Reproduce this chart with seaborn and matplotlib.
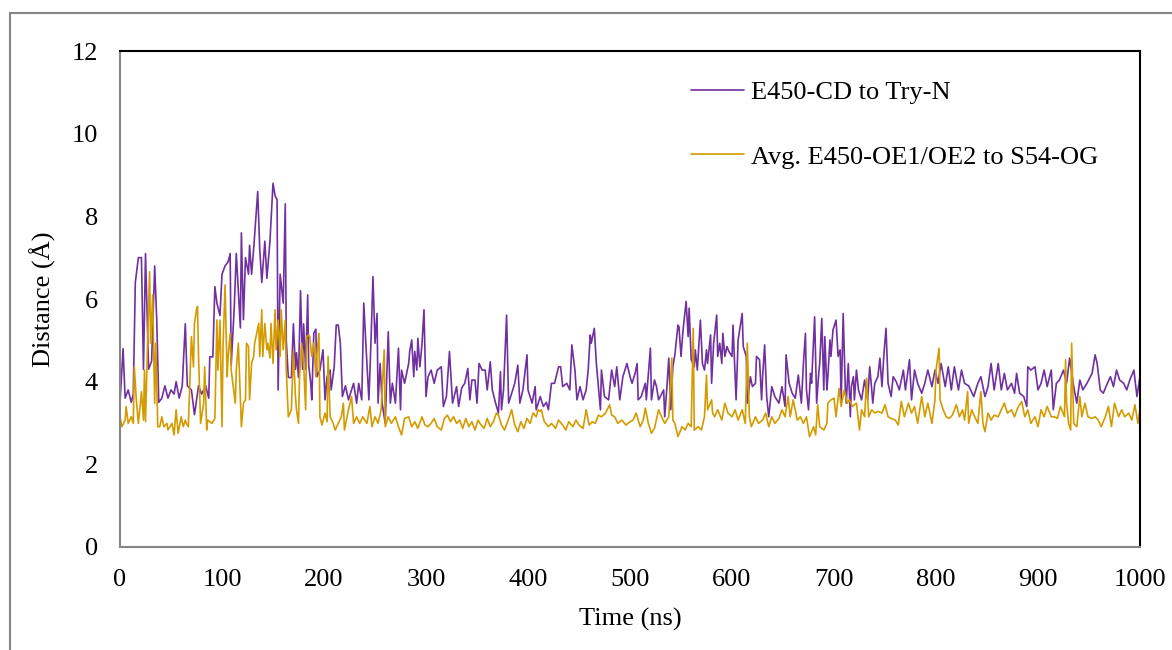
import numpy as np
import pandas as pd
import matplotlib
matplotlib.use("Agg")
import matplotlib.pyplot as plt
import seaborn as sns

# E450-CD to Try-N  (time ns, distance A)
time_cd = [0, 3, 5, 8, 11, 13, 15, 18, 21, 23, 25, 28, 31, 34, 36, 38, 41, 44, 47, 50,
           53, 55, 58, 61, 64, 66, 70, 73, 77, 80, 84, 87, 88, 91, 93, 95, 98, 100, 103, 106,
           108, 109, 112, 114, 118, 119, 121, 123, 126, 127, 129, 131, 135, 137, 139, 142, 144, 147, 150, 152,
           154, 155, 157, 160, 162, 163, 165, 168, 170, 172, 173, 175, 177, 179, 180, 182, 184, 185, 187, 188,
           190, 192, 193, 196, 199, 201, 203, 206, 207, 210, 212, 214, 216, 218, 221, 224, 227, 229, 232, 234,
           237, 239, 241, 244, 246, 248, 250, 252, 253, 255, 257, 260, 262, 263, 265, 267, 270, 273, 275, 276,
           279, 283, 284, 286, 288, 289, 291, 292, 294, 296, 298, 300, 302, 305, 308, 311, 315, 317, 320, 323,
           326, 330, 332, 335, 338, 341, 343, 345, 348, 350, 352, 355, 358, 360, 363, 365, 368, 371, 373, 374,
           376, 379, 381, 383, 387, 390, 392, 395, 399, 400, 404, 407, 408, 412, 415, 418, 420, 423, 426, 430,
           432, 434, 438, 441, 443, 446, 448, 451, 454, 457, 459, 461, 462, 465, 467, 471, 472, 475, 479, 482,
           485, 487, 490, 493, 497, 500, 502, 505, 507, 508, 511, 515, 516, 520, 521, 524, 526, 528, 531, 533,
           534, 536, 538, 540, 542, 544, 547, 548, 550, 552, 554, 555, 557, 558, 560, 563, 564, 566, 569, 571,
           573, 575, 576, 579, 580, 582, 585, 586, 588, 590, 591, 593, 595, 597, 600, 601, 604, 606, 610, 611,
           614, 615, 618, 620, 623, 624, 627, 629, 630, 632, 634, 636, 639, 642, 646, 649, 652, 653, 656, 659,
           662, 665, 668, 670, 672, 673, 675, 677, 678, 681, 683, 685, 686, 688, 690, 691, 693, 694, 696, 697,
           699, 701, 702, 704, 706, 707, 709, 711, 712, 714, 716, 717, 719, 720, 722, 724, 727, 730, 733, 735,
           737, 738, 740, 743, 745, 747, 749, 751, 753, 756, 758, 761, 764, 768, 770, 774, 776, 779, 782, 786,
           789, 792, 796, 799, 802, 805, 809, 812, 815, 818, 822, 825, 828, 832, 837, 841, 844, 848, 851, 854,
           857, 861, 864, 867, 870, 874, 877, 879, 882, 886, 889, 890, 893, 897, 900, 903, 906, 909, 913, 915,
           918, 921, 925, 928, 931, 935, 938, 941, 944, 948, 953, 956, 958, 961, 964, 968, 971, 974, 977, 980,
           984, 987, 990, 994, 997, 1000]
dist_cd = [3.5, 4.8, 3.6, 3.8, 3.5, 3.7, 6.4, 7.0, 7.0, 4.3, 7.1, 4.3, 4.5, 6.8, 5.5, 3.5, 3.6, 3.9, 3.6, 3.8,
           3.7, 4.0, 3.6, 3.9, 5.4, 3.9, 3.8, 3.2, 3.9, 3.7, 3.9, 3.6, 4.6, 4.6, 6.3, 5.9, 5.6, 6.6, 6.8, 6.9,
           7.1, 4.4, 5.8, 7.1, 5.3, 7.6, 5.5, 7.0, 6.6, 7.3, 6.6, 7.2, 8.6, 7.2, 6.4, 7.4, 6.5, 7.4, 8.8, 8.5,
           8.4, 3.8, 6.6, 5.9, 8.3, 5.0, 4.1, 4.1, 5.4, 4.3, 4.7, 4.1, 6.2, 4.3, 5.4, 4.3, 6.1, 4.4, 3.96, 3.56,
           5.17, 5.27, 4.12, 4.28, 4.77, 3.56, 4.12, 4.28, 3.8, 4.36, 5.37, 5.37, 4.93, 3.64, 3.9, 3.56, 3.8, 3.96, 3.48, 3.96,
           3.56, 5.9, 4.93, 3.56, 4.93, 6.54, 4.93, 5.65, 3.48, 4.44, 3.48, 2.99, 4.44, 5.21, 3.48, 3.96, 3.48, 4.81, 3.32, 4.28,
           3.96, 4.44, 4.73, 5.01, 4.12, 4.73, 4.28, 5.05, 4.36, 4.89, 5.74, 3.64, 4.12, 4.28, 3.96, 4.28, 4.36, 3.4, 3.64, 4.73,
           3.48, 3.88, 3.4, 3.85, 3.96, 4.32, 3.56, 4.04, 4.04, 3.48, 4.44, 4.28, 4.28, 3.8, 4.48, 3.8, 3.5, 3.24, 4.24, 3.32,
           3.8, 5.61, 3.48, 3.64, 3.96, 4.4, 3.48, 3.8, 4.65, 3.8, 3.48, 3.88, 3.32, 3.64, 3.4, 3.5, 3.32, 3.96, 3.96, 4.36,
           4.36, 3.88, 3.96, 3.8, 4.89, 4.28, 3.56, 3.88, 3.56, 3.8, 4.28, 5.13, 4.93, 5.29, 4.44, 3.32, 4.28, 3.64, 3.56, 4.28,
           3.88, 4.36, 3.56, 4.12, 4.44, 4.12, 3.96, 4.2, 4.44, 3.56, 3.64, 3.96, 3.56, 4.81, 3.56, 4.04, 3.88, 3.56, 3.7, 3.8,
           3.15, 3.8, 4.57, 3.32, 4.36, 4.65, 5.37, 5.33, 4.61, 5.25, 5.7, 5.94, 5.09, 5.78, 4.53, 4.36, 4.77, 4.28, 5.49, 4.44,
           4.28, 4.77, 4.44, 5.13, 3.96, 4.93, 5.61, 4.61, 4.93, 4.44, 5.17, 4.61, 4.85, 4.73, 4.61, 5.37, 3.56, 5.01, 5.65, 4.85,
           4.61, 3.48, 4.12, 3.88, 3.96, 4.61, 4.53, 3.56, 4.12, 4.89, 3.64, 3.15, 3.88, 3.64, 3.48, 3.88, 3.4, 4.65, 3.96, 3.72,
           3.6, 4.16, 3.48, 4.44, 5.17, 3.8, 3.32, 4.2, 3.96, 5.57, 3.48, 4.2, 4.44, 5.53, 3.8, 5.09, 3.8, 4.12, 5.01, 4.61,
           5.25, 5.41, 5.49, 4.61, 4.77, 3.48, 5.65, 3.88, 3.48, 4.44, 3.15, 3.88, 4.12, 3.56, 4.28, 3.8, 3.56, 4.04, 3.56, 4.36,
           3.8, 3.48, 3.96, 4.12, 4.57, 3.88, 4.69, 5.29, 3.96, 3.64, 4.12, 4.0, 3.8, 4.28, 3.8, 4.53, 3.56, 4.28, 3.96, 3.72,
           3.96, 4.28, 3.88, 4.28, 3.96, 4.44, 3.88, 4.36, 3.8, 4.36, 3.8, 4.28, 3.96, 3.9, 3.64, 3.96, 4.12, 3.64, 3.88, 4.44,
           3.8, 4.44, 3.8, 4.2, 3.8, 3.96, 3.72, 4.2, 3.72, 3.64, 3.4, 4.36, 4.28, 4.36, 3.8, 3.96, 4.28, 3.88, 4.28, 3.32,
           3.96, 4.04, 4.28, 3.96, 4.57, 3.88, 3.48, 4.04, 3.8, 3.96, 4.2, 4.65, 4.44, 3.8, 3.72, 3.96, 4.12, 3.88, 4.28, 4.04,
           3.96, 3.8, 4.04, 4.28, 3.64, 4.12]

# Avg. E450-OE1/OE2 to S54-OG
time_og = [0, 2, 5, 6, 8, 11, 13, 14, 16, 18, 20, 21, 23, 24, 25, 27, 29, 30, 32, 34,
           35, 37, 39, 41, 43, 46, 47, 51, 53, 55, 57, 60, 62, 64, 65, 67, 70, 72, 73, 75,
           76, 77, 79, 82, 83, 85, 86, 90, 93, 95, 96, 98, 100, 101, 103, 105, 106, 108, 109, 111,
           113, 114, 116, 119, 121, 123, 124, 126, 127, 129, 131, 132, 136, 137, 139, 140, 142, 144, 145, 147,
           148, 150, 152, 153, 155, 157, 158, 160, 162, 163, 165, 168, 170, 172, 173, 175, 176, 178, 180, 182,
           183, 185, 186, 188, 190, 192, 193, 195, 196, 198, 201, 203, 204, 206, 209, 211, 214, 217, 219, 220,
           224, 227, 229, 232, 235, 238, 242, 245, 247, 250, 253, 256, 259, 260, 263, 266, 270, 273, 276, 279,
           283, 286, 289, 292, 296, 299, 302, 305, 308, 311, 315, 318, 321, 324, 327, 330, 333, 336, 339, 342,
           345, 348, 351, 354, 357, 360, 363, 366, 369, 371, 374, 377, 380, 384, 387, 390, 393, 396, 399, 402,
           405, 408, 410, 412, 413, 416, 420, 423, 427, 430, 434, 437, 440, 444, 447, 450, 454, 457, 460, 463,
           466, 469, 472, 476, 480, 482, 485, 488, 492, 496, 500, 503, 506, 510, 513, 515, 518, 521, 524, 528,
           531, 534, 538, 541, 542, 544, 547, 551, 554, 557, 560, 562, 563, 567, 570, 573, 575, 576, 580, 581,
           583, 586, 590, 593, 596, 600, 603, 606, 610, 613, 615, 617, 619, 623, 626, 630, 633, 636, 639, 642,
           646, 649, 652, 655, 657, 660, 664, 667, 670, 673, 676, 680, 682, 684, 686, 690, 693, 694, 697, 700,
           702, 705, 707, 710, 713, 715, 718, 722, 725, 727, 730, 732, 734, 737, 740, 743, 747, 750, 753, 756,
           760, 763, 766, 769, 773, 776, 779, 782, 786, 789, 792, 796, 799, 800, 803, 804, 807, 810, 813, 816,
           820, 823, 826, 828, 831, 832, 835, 838, 841, 844, 846, 848, 851, 854, 857, 861, 864, 867, 870, 874,
           877, 880, 884, 887, 890, 893, 897, 900, 903, 906, 909, 913, 916, 919, 922, 926, 927, 928, 930, 932,
           933, 935, 938, 941, 943, 946, 949, 953, 956, 959, 962, 966, 969, 972, 975, 979, 982, 985, 989, 992,
           995, 998, 1000]
dist_og = [3.15, 2.91, 3.07, 3.40, 2.99, 3.15, 2.99, 4.36, 3.56, 2.99, 3.48, 3.76, 3.07, 4.28, 3.03, 4.93, 6.66, 4.93, 6.10, 3.48,
           4.93, 2.91, 2.91, 3.15, 2.91, 2.99, 2.83, 2.99, 2.71, 3.32, 2.75, 3.15, 2.91, 3.07, 2.99, 2.91, 5.09, 4.36, 5.41, 5.74,
           5.82, 4.61, 2.99, 3.48, 4.36, 2.83, 3.07, 2.99, 3.11, 5.49, 4.28, 5.49, 2.91, 4.85, 6.34, 4.12, 4.61, 5.17, 4.28, 3.88,
           3.48, 4.28, 4.93, 2.91, 3.48, 3.56, 4.93, 4.85, 3.56, 4.44, 4.61, 4.93, 5.41, 4.61, 5.74, 4.61, 5.41, 4.77, 4.93, 4.57,
           5.41, 4.44, 5.74, 4.77, 5.49, 4.61, 5.74, 4.77, 5.49, 4.28, 3.15, 3.32, 4.73, 3.64, 3.32, 2.99, 4.12, 4.93, 4.44, 3.32,
           5.09, 5.13, 5.09, 4.61, 4.93, 4.12, 4.65, 5.17, 3.15, 2.95, 3.24, 3.03, 4.61, 3.15, 2.99, 2.83, 2.99, 3.15, 3.48, 2.83,
           3.32, 3.64, 2.99, 3.15, 2.99, 3.15, 2.99, 3.40, 2.91, 3.15, 2.99, 3.32, 4.77, 2.91, 3.15, 2.99, 3.15, 2.91, 2.71, 3.11,
           3.15, 2.91, 3.03, 2.87, 3.15, 2.95, 2.91, 2.99, 3.11, 2.91, 2.83, 3.11, 3.19, 3.03, 3.15, 2.99, 3.07, 2.87, 3.11, 2.91,
           3.03, 2.83, 3.07, 2.95, 2.87, 3.11, 2.91, 3.03, 3.24, 3.19, 2.95, 2.83, 3.03, 3.32, 2.95, 2.79, 3.03, 2.87, 3.11, 2.99,
           3.24, 3.15, 3.32, 3.28, 3.32, 3.03, 2.91, 2.99, 2.87, 3.07, 2.95, 2.83, 3.03, 2.91, 3.07, 2.95, 2.87, 3.32, 2.95, 3.03,
           2.99, 3.19, 3.15, 3.24, 3.44, 3.19, 3.15, 2.99, 3.07, 2.95, 3.03, 3.07, 3.24, 2.91, 3.07, 3.36, 2.99, 2.75, 2.87, 3.32,
           3.15, 2.99, 3.15, 4.57, 3.07, 2.99, 2.67, 2.91, 2.83, 2.99, 2.91, 5.29, 2.83, 2.91, 2.83, 3.15, 4.16, 3.32, 3.56, 3.24,
           3.15, 3.32, 3.07, 3.48, 3.24, 3.15, 3.32, 3.07, 3.32, 2.99, 4.93, 3.15, 2.91, 3.15, 2.99, 3.07, 3.24, 2.91, 3.15, 2.99,
           3.11, 3.32, 3.15, 3.64, 3.15, 3.56, 3.07, 3.15, 2.99, 3.15, 2.67, 2.91, 2.71, 3.44, 2.91, 2.83, 2.99, 3.48, 3.56, 3.60,
           3.15, 3.84, 3.40, 3.80, 3.48, 3.56, 3.40, 3.48, 2.83, 3.32, 3.15, 4.08, 3.15, 3.32, 3.24, 3.28, 3.24, 3.44, 3.15, 3.11,
           3.07, 2.95, 3.52, 3.15, 3.48, 3.24, 3.40, 2.99, 3.64, 3.15, 3.48, 2.99, 3.56, 4.28, 4.81, 3.56, 3.32, 3.15, 3.11, 3.19,
           3.44, 3.15, 3.32, 3.07, 3.76, 2.99, 3.32, 3.15, 2.99, 3.76, 2.99, 2.79, 3.24, 3.07, 3.19, 3.15, 3.32, 3.48, 3.24, 3.32,
           3.15, 3.36, 3.52, 3.15, 3.32, 2.99, 3.15, 2.91, 3.32, 3.15, 3.40, 3.15, 3.15, 3.11, 3.40, 3.15, 4.53, 3.48, 2.99, 2.83,
           4.93, 2.99, 2.91, 3.64, 3.15, 3.48, 3.15, 3.11, 3.15, 3.07, 2.91, 3.15, 3.40, 2.91, 3.48, 3.15, 3.32, 3.15, 3.24, 3.07,
           3.44, 2.99, 3.36]

label_cd = "E450-CD to Try-N"
label_og = "Avg. E450-OE1/OE2 to S54-OG"
x_ticks = [0, 100, 200, 300, 400, 500, 600, 700, 800, 900, 1000]
y_ticks = [0, 2, 4, 6, 8, 10, 12]

df_cd = pd.DataFrame({"time": time_cd, "dist": dist_cd})
df_og = pd.DataFrame({"time": time_og, "dist": dist_og})

sns.set_style("white")
plt.rcParams["font.family"] = ["Liberation Serif", "DejaVu Serif"]
plt.rcParams["text.color"] = "black"
plt.rcParams["axes.labelcolor"] = "black"
plt.rcParams["xtick.color"] = "black"
plt.rcParams["ytick.color"] = "black"

fig = plt.figure(figsize=(11.72, 6.5), dpi=100)
ax = fig.add_axes([0.1024, 0.1585, 0.8703, 0.763])

sns.lineplot(data=df_cd, x="time", y="dist", color="#7030A0", linewidth=1.2,
             label=label_cd, ax=ax, estimator=None)
sns.lineplot(data=df_og, x="time", y="dist", color="#D49B00", linewidth=1.2,
             label=label_og, ax=ax, estimator=None)

fs = 19
ax.set_xlim(0, 1000)
ax.set_ylim(0, 12)
ax.set_xticks(x_ticks)
ax.set_yticks(y_ticks)
ax.tick_params(axis="both", labelsize=fs, direction="out", length=5, width=1.2,
               color="#868686", labelcolor="black")
ax.tick_params(axis="x", pad=11)
ax.tick_params(axis="y", pad=11)
ax.set_xlabel("Time (ns)", fontsize=fs, labelpad=12)
ax.set_ylabel("Distance (Å)", fontsize=fs, labelpad=11)

for side in ["left", "bottom"]:
    ax.spines[side].set_color("#868686")
    ax.spines[side].set_linewidth(1.5)
for side in ["top", "right"]:
    ax.spines[side].set_color("black")
    ax.spines[side].set_linewidth(1.5)

ax.legend(loc="upper left", bbox_to_anchor=(0.537, 0.988), frameon=False,
          fontsize=fs, handlelength=2.0, handletextpad=0.25, labelspacing=1.55)

# outer chart-area border
border = plt.Rectangle((10 / 1172, -0.05), 1.2, 1.05 - 13 / 650, transform=fig.transFigure,
                       fill=False, edgecolor="#868686", linewidth=1.5)
fig.add_artist(border)

fig.savefig("out.png", dpi=100)
